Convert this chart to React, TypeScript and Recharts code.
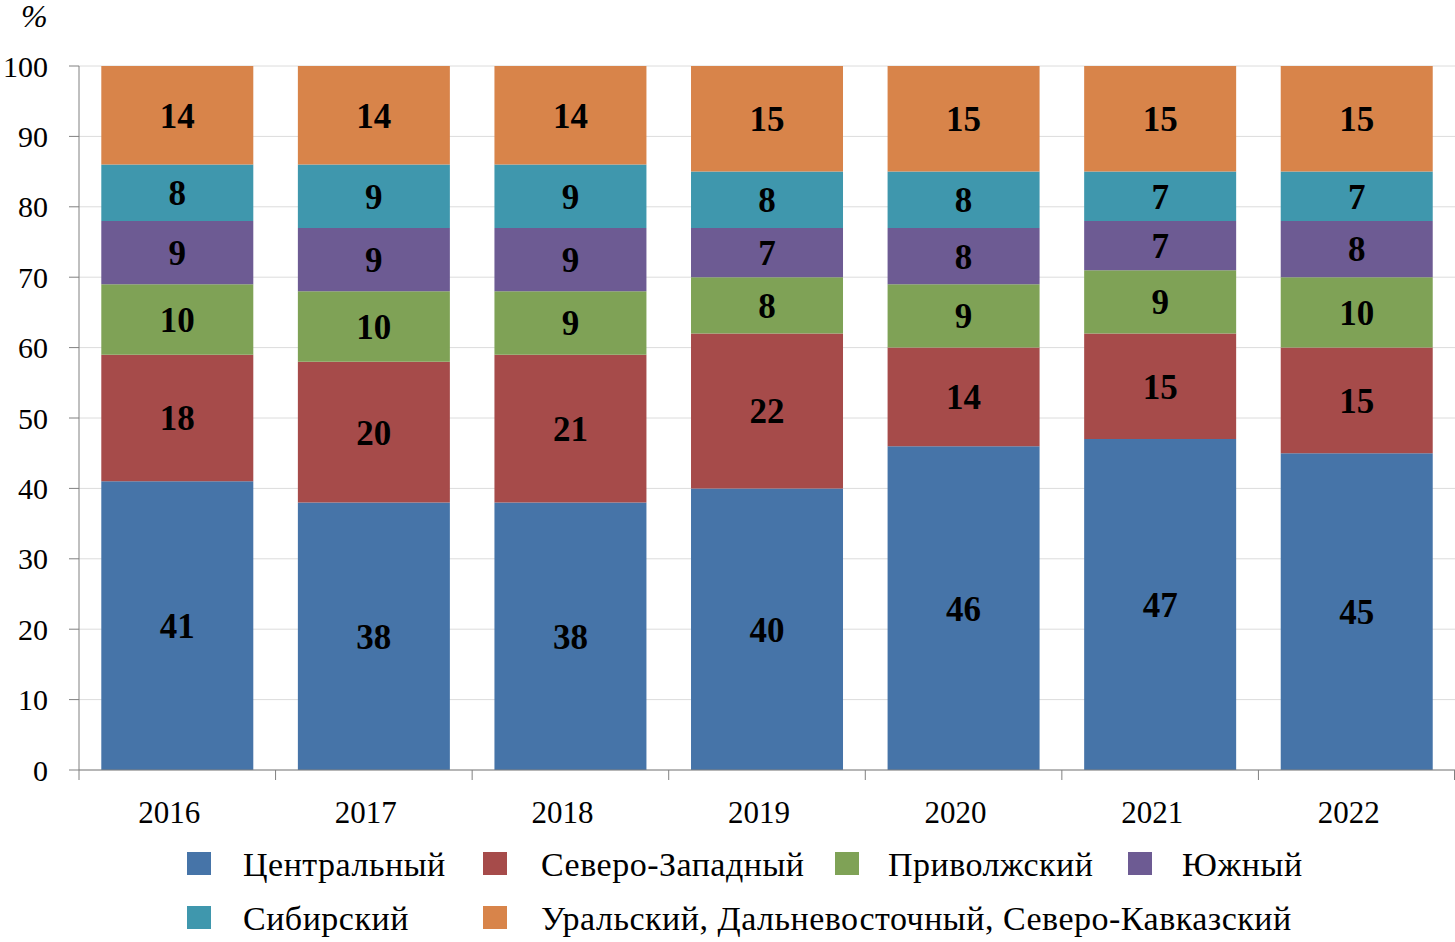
import React from "react";
import {
  BarChart,
  Bar,
  XAxis,
  YAxis,
  CartesianGrid,
  LabelList,
} from "recharts";

const years = ["2016", "2017", "2018", "2019", "2020", "2021", "2022"];

const central = [41, 38, 38, 40, 46, 47, 45];
const northWest = [18, 20, 21, 22, 14, 15, 15];
const volga = [10, 10, 9, 8, 9, 9, 10];
const south = [9, 9, 9, 7, 8, 7, 8];
const siberia = [8, 9, 9, 8, 8, 7, 7];
const uralFarEastNC = [14, 14, 14, 15, 15, 15, 15];

const yTicks = [0, 10, 20, 30, 40, 50, 60, 70, 80, 90, 100];

const series = [
  { key: "central", name: "Центральный", values: central, color: "#4674A8" },
  { key: "northWest", name: "Северо-Западный", values: northWest, color: "#A64B4A" },
  { key: "volga", name: "Приволжский", values: volga, color: "#7FA256" },
  { key: "south", name: "Южный", values: south, color: "#6D5B93" },
  { key: "siberia", name: "Сибирский", values: siberia, color: "#3F97AD" },
  {
    key: "ural",
    name: "Уральский, Дальневосточный, Северо-Кавказский",
    values: uralFarEastNC,
    color: "#D8844A",
  },
];

const data = years.map((year, i) => {
  const row: Record<string, string | number> = { year };
  series.forEach((s) => {
    row[s.key] = s.values[i];
  });
  return row;
});

const FONT = '"Liberation Serif", "Times New Roman", serif';
const W = 1455;
const H = 942;
const PLOT_LEFT = 79;
const PLOT_RIGHT = 1455;
const BAND = (PLOT_RIGHT - PLOT_LEFT) / years.length;

function YearTick(props: any) {
  const { x, y, payload, index } = props;
  const last = index === years.length - 1;
  return (
    <g>
      <line x1={x - BAND / 2} y1={y} x2={x - BAND / 2} y2={y + 10} stroke="#808080" />
      {last && (
        <line x1={x + BAND / 2 - 0.5} y1={y} x2={x + BAND / 2 - 0.5} y2={y + 10} stroke="#808080" />
      )}
      <text
        x={x - 8}
        y={y + 53}
        textAnchor="middle"
        fontFamily={FONT}
        fontSize={31}
        fill="#000"
      >
        {payload.value}
      </text>
    </g>
  );
}

// legend: two rows, items aligned in columns
const legendSquareX = [187, 483, 835, 1128];
const legendTextX = [243, 541, 888, 1182];

function LegendBox() {
  return (
    <div style={{ position: "absolute", left: 0, top: 0, width: W, height: H, pointerEvents: "none" }}>
      {series.map((s, i) => {
        const row = i < 4 ? 0 : 1;
        const col = i < 4 ? i : i - 4;
        const dy = row * 54;
        return (
          <React.Fragment key={s.key}>
            <div
              style={{
                position: "absolute",
                left: legendSquareX[col],
                top: 852 + dy,
                width: 24,
                height: 23,
                background: s.color,
              }}
            />
            <span
              style={{
                position: "absolute",
                left: legendTextX[col],
                top: 848 + dy,
                fontFamily: FONT,
                fontSize: 34,
                lineHeight: 1,
                letterSpacing: 0.5,
                whiteSpace: "nowrap",
                color: "#000",
              }}
            >
              {s.name}
            </span>
          </React.Fragment>
        );
      })}
    </div>
  );
}

export default function App() {
  return (
    <div style={{ position: "absolute", left: 0, top: 0, width: W, height: H, background: "#fff" }}>
      <span
        style={{
          position: "absolute",
          left: 21,
          top: 1,
          fontFamily: FONT,
          fontStyle: "italic",
          fontSize: 32,
          lineHeight: "30px",
        }}
      >
        %
      </span>
      <BarChart
        width={W}
        height={H}
        data={data}
        margin={{ top: 66, right: W - PLOT_RIGHT, left: 0, bottom: 112 }}
        barCategoryGap={22.3}
      >
        <CartesianGrid vertical={false} stroke="#DCDCDC" />
        <XAxis
          dataKey="year"
          height={60}
          axisLine={{ stroke: "#808080" }}
          tickLine={false}
          tickSize={0}
          tickMargin={0}
          interval={0}
          tick={<YearTick />}
        />
        <YAxis
          width={PLOT_LEFT}
          domain={[0, 100]}
          ticks={yTicks}
          interval={0}
          tickSize={10}
          tickMargin={21}
          axisLine={{ stroke: "#808080" }}
          tickLine={{ stroke: "#808080" }}
          tick={{ fontFamily: FONT, fontSize: 30, fill: "#000" }}
        />
        {series.map((s) => (
          <Bar
            key={s.key}
            dataKey={s.key}
            name={s.name}
            stackId="a"
            fill={s.color}
            isAnimationActive={false}
          >
            <LabelList
              dataKey={s.key}
              position="center"
              fill="#000"
              fontFamily={FONT}
              fontWeight="bold"
              fontSize={35}
            />
          </Bar>
        ))}
      </BarChart>
      <LegendBox />
    </div>
  );
}
